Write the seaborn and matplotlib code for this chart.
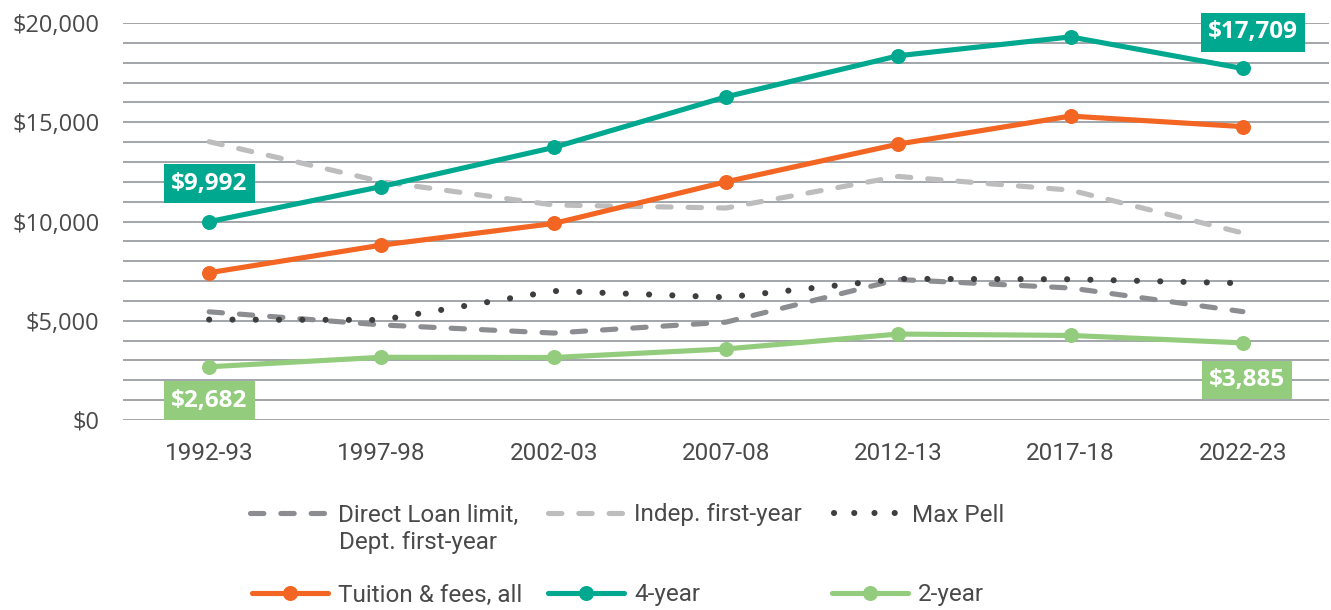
import matplotlib
matplotlib.use("Agg")
import matplotlib.pyplot as plt
from matplotlib.lines import Line2D
import seaborn as sns
import pandas as pd

# Academic years on the x axis
years = ["1992-93", "1997-98", "2002-03", "2007-08", "2012-13", "2017-18", "2022-23"]

# Published tuition & fees (constant dollars)
tuition_all = [7420, 8810, 9900, 12000, 13900, 15310, 14780]
tuition_4yr = [9992, 11760, 13730, 16280, 18350, 19300, 17709]
tuition_2yr = [2682, 3160, 3150, 3580, 4330, 4260, 3885]

# Aid limits
loan_dependent = [5450, 4790, 4380, 4930, 7080, 6650, 5460]
loan_independent = [14020, 12010, 10830, 10680, 12270, 11580, 9420]
max_pell = [5060, 5040, 6500, 6180, 7110, 7090, 6890]

yticks = [0, 5000, 10000, 15000, 20000]
ytick_labels = ["$0", "$5,000", "$10,000", "$15,000", "$20,000"]

TEAL = "#00A88F"
ORANGE = "#F26522"
GREEN = "#93CC7D"
DARK_DASH = "#8C8D91"
LIGHT_DASH = "#BDBDBD"
DOT = "#3E3E3E"
GRID = "#A2A6AA"
TEXT = "#4A4A4A"

W, H = 1331, 610
sns.set_theme(style="white")
fig = plt.figure(figsize=(W / 100, H / 100), dpi=100)
ax = fig.add_axes([123 / W, 1 - 420 / H, (1329 - 123) / W, (420 - 23) / H])

narrow = ["Roboto", "DejaVu Sans"]
wide = ["Open Sans", "DejaVu Sans"]

df = pd.DataFrame({
    "year": years,
    "tuition_all": tuition_all,
    "tuition_4yr": tuition_4yr,
    "tuition_2yr": tuition_2yr,
    "loan_dependent": loan_dependent,
    "loan_independent": loan_independent,
    "max_pell": max_pell,
})

LW = 3.7
dash_pat = (2.6, 3.3)
dot_pat = (0.01, 3.8)

# Limits drawn first so the tuition lines sit on top
for col, color, pat, lw in [("loan_independent", LIGHT_DASH, dash_pat, LW),
                            ("loan_dependent", DARK_DASH, dash_pat, LW),
                            ("max_pell", DOT, dot_pat, 4.4)]:
    sns.lineplot(data=df, x="year", y=col, sort=False, color=color, lw=lw, ax=ax)
    ln = ax.lines[-1]
    ln.set_dashes(pat)
    ln.set_dash_capstyle("round")

for col, color in [("tuition_2yr", GREEN), ("tuition_all", ORANGE), ("tuition_4yr", TEAL)]:
    sns.lineplot(data=df, x="year", y=col, sort=False, color=color, lw=LW,
                 marker="o", markersize=10.8, markeredgewidth=0, ax=ax)

ax.set_xlim(-0.5, 6.5)
ax.set_ylim(0, 20000)
ax.set_yticks(yticks)
ax.set_yticklabels(ytick_labels)
ax.set_yticks(range(0, 20001, 1000), minor=True)
ax.grid(axis="y", which="both", color=GRID, lw=1.4)
ax.grid(axis="x", visible=False)
ax.set_axisbelow(True)
for s in ax.spines.values():
    s.set_visible(False)
ax.set_xlabel("")
ax.set_ylabel("")
ax.tick_params(axis="both", which="both", length=0)
ax.tick_params(axis="y", pad=17)
ax.tick_params(axis="x", pad=16)
for t in ax.get_yticklabels():
    t.set_fontfamily(wide)
    t.set_fontsize(17)
    t.set_color(TEXT)
for t in ax.get_xticklabels():
    t.set_fontfamily(narrow)
    t.set_fontsize(17.5)
    t.set_color(TEXT)

# Value callouts
def callout(xi, values, color, dx, dy):
    v = values[xi]
    ax.annotate(f"${v:,}", xy=(years[xi], v), xytext=(dx, dy), textcoords="offset pixels",
                ha="center", va="center", color="white", fontsize=17.5, fontweight="bold",
                family=wide, annotation_clip=False,
                bbox=dict(boxstyle="square,pad=0.3", fc=color, ec="none"))

callout(0, tuition_4yr, TEAL, 0, 38)
callout(6, tuition_4yr, TEAL, 10, 36)
callout(0, tuition_2yr, GREEN, 0, -34)
callout(6, tuition_2yr, GREEN, 4, -37)

# Legend: one entry per slot, laid out in two rows of three
fs = 17.5
fs_px = fs * 100 / 72
entries = [
    (250, 515, Line2D([], [], color=DARK_DASH, lw=LW, dashes=dash_pat, dash_capstyle="round"),
     "Direct Loan limit,", 12),
    (548, 515, Line2D([], [], color=LIGHT_DASH, lw=LW, dashes=dash_pat, dash_capstyle="round"),
     "Indep. first-year", 10),
    (834, 515, Line2D([], [], color=DOT, lw=4.4, dashes=(0.01, 3.3), dash_capstyle="round"),
     "Max Pell", 2),
    (252, 595, Line2D([], [], color=ORANGE, lw=LW, marker="o", markersize=10.8, markeredgewidth=0),
     "Tuition & fees, all", 10),
    (548, 595, Line2D([], [], color=TEAL, lw=LW, marker="o", markersize=10.8, markeredgewidth=0),
     "4-year", 10),
    (832, 595, Line2D([], [], color=GREEN, lw=LW, marker="o", markersize=10.8, markeredgewidth=0),
     "2-year", 10),
]
for x, y, h, lab, gap in entries:
    leg = fig.legend(handles=[h], labels=[lab], loc="center left",
                     bbox_to_anchor=(x / W, 1 - y / H), frameon=False,
                     borderpad=0, borderaxespad=0, handlelength=76 / fs_px,
                     handletextpad=gap / fs_px, prop={"family": narrow, "size": fs})
    for t in leg.get_texts():
        t.set_color(TEXT)
fig.text(339 / W, 1 - 542 / H, "Dept. first-year", ha="left", va="center",
         family=narrow, fontsize=fs, color=TEXT)

fig.savefig("out.png", dpi=100)
